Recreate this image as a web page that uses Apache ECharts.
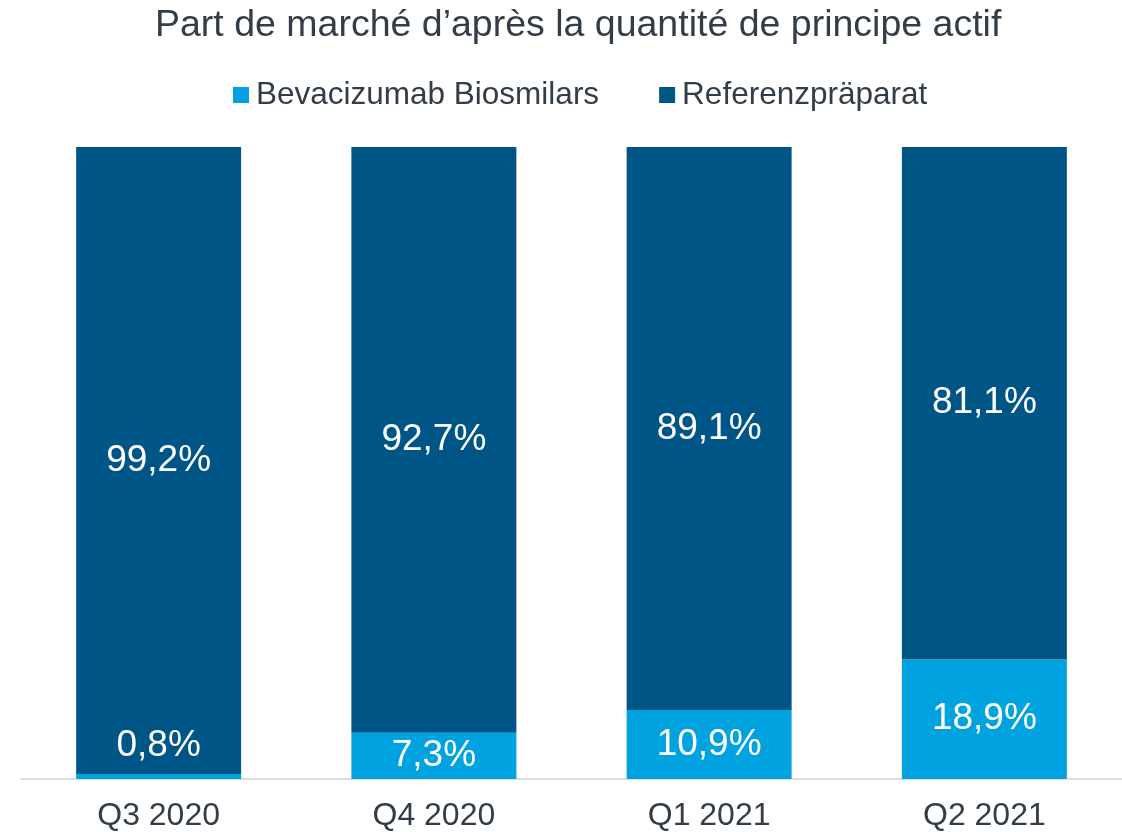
<!DOCTYPE html>
<html>
<head>
<meta charset="utf-8">
<script src="https://cdn.jsdelivr.net/npm/echarts@6/dist/echarts.min.js"></script>
<style>
  html, body { margin: 0; padding: 0; background: #fff; }
  #chart { width: 1122px; height: 832px; }
</style>
</head>
<body>
<div id="chart"></div>
<script>
// quarters and shares (%)
const quarters = ['Q3 2020', 'Q4 2020', 'Q1 2021', 'Q2 2021']
const biosimilars = [0.8, 7.3, 10.9, 18.9]
const reference = [99.2, 92.7, 89.1, 81.1]

const chart = echarts.init(document.getElementById('chart'))
const font = 'Liberation Sans, Arial, sans-serif'

const fmt = p => p.value.toFixed(1).replace('.', ',') + '%'

const option = {
  animation: false,
  title: {
    text: 'Part de marché d\u2019après la quantité de principe actif',
    left: 150,
    top: 2,
    textStyle: { fontFamily: font, fontSize: 37.5, fontWeight: 'normal', color: '#333d47' }
  },
  legend: {
    top: 74,
    left: 228,
    itemWidth: 16,
    itemHeight: 16,
    itemGap: 60,
    icon: 'rect',
    textStyle: { fontFamily: font, fontSize: 31.5, color: '#333d47', padding: [0, 0, 0, 2] },
    data: ['Bevacizumab Biosmilars', 'Referenzpräparat']
  },
  grid: { left: 21, right: -3, top: 147, bottom: 50 },
  xAxis: {
    type: 'category',
    data: quarters,
    axisLine: { lineStyle: { color: '#d9dfe5', width: 2 } },
    axisTick: { show: false },
    axisLabel: { fontFamily: font, fontSize: 32, color: '#333d47', margin: 21 }
  },
  yAxis: {
    type: 'value',
    min: 0,
    max: 100,
    show: false,
    splitLine: { show: false }
  },
  series: [
    {
      name: 'Bevacizumab Biosmilars',
      type: 'bar',
      stack: 'total',
      barWidth: 165,
      itemStyle: { color: '#00a3e0' },
      data: biosimilars.map(v => v < 2
        ? { value: v, label: { position: 'top', distance: 10 } }
        : v),
      label: { show: true, position: 'inside', formatter: fmt, fontFamily: font, fontSize: 37, color: '#fff' }
    },
    {
      name: 'Referenzpräparat',
      type: 'bar',
      stack: 'total',
      barWidth: 165,
      itemStyle: { color: '#005587' },
      data: reference,
      label: { show: true, position: 'inside', formatter: fmt, fontFamily: font, fontSize: 37, color: '#fff' }
    }
  ]
}

chart.setOption(option)
</script>
</body>
</html>
